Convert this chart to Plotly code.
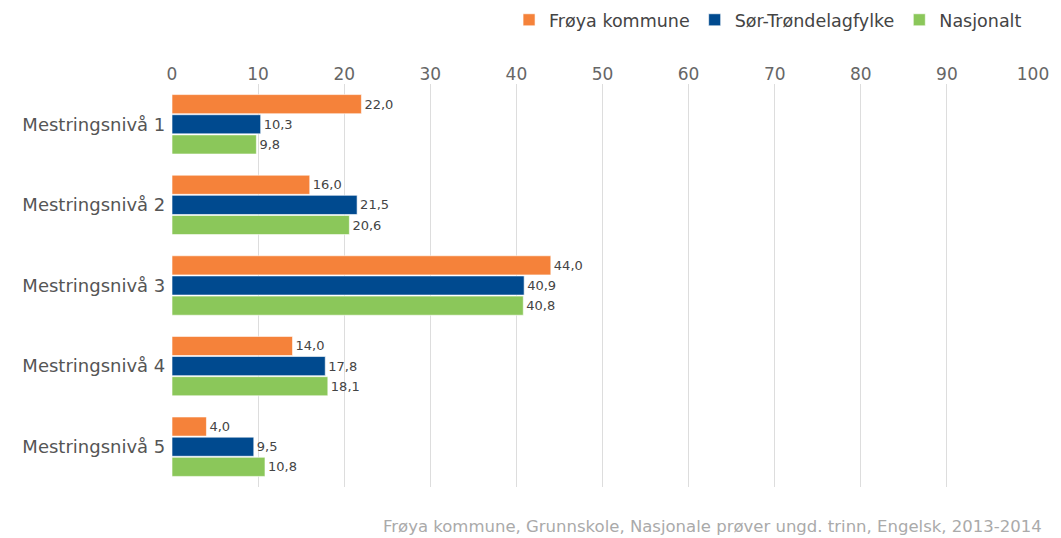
import plotly.graph_objects as go

categories = ["Mestringsnivå 1", "Mestringsnivå 2", "Mestringsnivå 3", "Mestringsnivå 4", "Mestringsnivå 5"]
series_names = ["Frøya kommune", "Sør-Trøndelagfylke", "Nasjonalt"]
froya = [22.0, 16.0, 44.0, 14.0, 4.0]
sor_trondelag = [10.3, 21.5, 40.9, 17.8, 9.5]
nasjonalt = [9.8, 20.6, 40.8, 18.1, 10.8]
colors = ["#F5823A", "#004A8F", "#8BC75A"]
tick_vals = list(range(0, 101, 10))
source_text = "Frøya kommune, Grunnskole, Nasjonale prøver ungd. trinn, Engelsk, 2013-2014"

def fmt(v):
    return f"{v:.1f}".replace(".", ",")

fig = go.Figure()
for name, vals, col in zip(series_names, [froya, sor_trondelag, nasjonalt], colors):
    fig.add_trace(go.Bar(
        y=categories, x=vals, name=name, orientation="h",
        marker=dict(color=col, line=dict(color="rgba(255,255,255,0.6)", width=1)),
        text=[fmt(v) for v in vals], textposition="outside",
        textfont=dict(family="DejaVu Sans", size=13, color="#444444"),
        cliponaxis=False,
    ))

fig.update_layout(
    width=1061, height=538,
    margin=dict(l=172, r=24, t=84, b=51),
    barmode="group", bargap=0.25, bargroupgap=0.05,
    plot_bgcolor="white", paper_bgcolor="white",
    font=dict(family="DejaVu Sans", color="#555555"),
    showlegend=True,
    legend=dict(orientation="h", xref="container", yref="container",
                x=0.968, xanchor="right", y=0.963, yanchor="middle",
                font=dict(size=17.5, color="#444444"), traceorder="normal",
                itemwidth=30),
    xaxis=dict(side="top", range=[0, 100], tickvals=tick_vals,
               showgrid=True, gridcolor="#DDDDDD", gridwidth=1,
               zeroline=False, showline=False, ticks="",
               tickfont=dict(size=17, color="#666666")),
    yaxis=dict(autorange="reversed", showgrid=False, ticks="", showline=False,
               tickfont=dict(size=18, color="#555555"), ticksuffix=" "),
    annotations=[dict(text=source_text, xref="paper", yref="paper",
                      x=1.0127, y=-0.099, xanchor="right", yanchor="middle",
                      showarrow=False, font=dict(size=16.5, color="#AAAAAA"))],
)

fig.write_html("out.html")
